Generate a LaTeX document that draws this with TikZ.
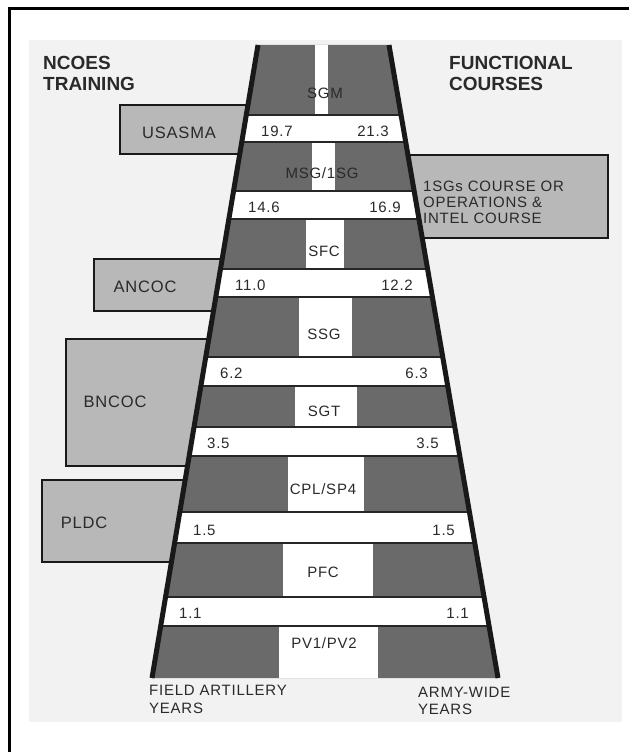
\documentclass[tikz,border=0pt]{standalone}
\usepackage{fontspec}
\setmainfont{Liberation Sans}
\newfontfamily\spacedfont[LetterSpace=5]{Liberation Sans}
\usetikzlibrary{calc}
\definecolor{scanbg}{HTML}{F2F2F2}
\definecolor{darkfill}{HTML}{6A6A6A}
\definecolor{boxfill}{HTML}{B8B8B8}
\definecolor{ink}{HTML}{2A2A2A}
\begin{document}
\begin{tikzpicture}[x=1pt,y=-1pt,
  lbl/.style={text=ink, inner sep=0pt, font=\spacedfont\fontsize{15}{15}\selectfont},
  clbl/.style={text=ink, inner sep=0pt, font=\spacedfont\fontsize{16.5}{16.5}\selectfont},
  head/.style={text=ink, inner sep=0pt, anchor=west, font=\bfseries\fontsize{19}{19}\selectfont},
  rank/.style={lbl},
  numl/.style={lbl, anchor=west},
  numr/.style={lbl, anchor=east},
  course/.style={draw=black!90, line width=2pt, fill=boxfill},
  bandline/.style={line width=2.5pt, draw=black!85},
  side/.style={line width=5pt, draw=black!90, line cap=butt}]
\useasboundingbox (0,0) rectangle (629,752);
\fill[white] (0,0) rectangle (629,752);
\draw[line width=3pt] (9,752) -- (9,9) -- (629,9);
\fill[scanbg] (29,40) rectangle (622,722);

% headings
\node[head] (h1a) at (43,63) {NCOES};
\node[head] (h1b) at (43,84) {TRAINING};
\node[head] (h2a) at (449,63) {FUNCTIONAL};
\node[head] (h2b) at (449,84) {COURSES};

% course boxes
\draw[course] (120,105) rectangle (252,154);
\draw[course] (94,259) rectangle (226,311);
\draw[course] (66,339) rectangle (213,466);
\draw[course] (42,480) rectangle (189,562);
\draw[course] (404,155) rectangle (608,238);
\node[clbl] (usasma) at (179,133) {USASMA};
\node[clbl] (ancoc) at (145,287) {ANCOC};
\node[clbl] (bncoc) at (115,402) {BNCOC};
\node[clbl] (pldc) at (84,523) {PLDC};
\node[lbl, anchor=west] (fc1) at (423,186) {1SGs COURSE OR};
\node[lbl, anchor=west] (fc2) at (423,202) {OPERATIONS \&};
\node[lbl, anchor=west] (fc3) at (423,218) {INTEL COURSE};

% ladder
\coordinate (TL) at (258,45);
\coordinate (TR) at (389,45);
\coordinate (BL) at (152,678);
\coordinate (BR) at (498,678);
\fill[darkfill] (TL) -- (TR) -- (BR) -- (BL) -- cycle;
\begin{scope}
\clip (TL) -- (TR) -- (BR) -- (BL) -- cycle;
% centre stripes
\fill[white] (315,40) rectangle (328,115);
\fill[white] (312,142) rectangle (335,191);
\fill[white] (306,219) rectangle (344,269);
\fill[white] (299,297) rectangle (352,357);
\fill[white] (295,386) rectangle (357,427);
\fill[white] (288,456) rectangle (364,512);
\fill[white] (283,543) rectangle (373,597);
\fill[white] (279,626) rectangle (378,680);
% white bands
\foreach \a/\b in {115/142,191/219,269/297,357/386,427/456,512/543,597/626}{
  \fill[white] (100,\a) rectangle (560,\b);
  \draw[bandline] (100,\a) -- (560,\a);
  \draw[bandline] (100,\b) -- (560,\b);
}
\end{scope}
\draw[side] (TL) -- (BL);
\draw[side] (TR) -- (BR);

% ranks
\node[rank] (sgm) at (325,93) {SGM};
\node[rank] (msg) at (322,173) {MSG/1SG};
\node[rank] (sfc) at (324,251) {SFC};
\node[rank] (ssg) at (324,334) {SSG};
\node[rank] (sgt) at (324,411) {SGT};
\node[rank] (cpl) at (323,489) {CPL/SP4};
\node[rank] (pfc) at (323,572) {PFC};
\node[rank] (pv) at (324,643) {PV1/PV2};

% years
\node[numl] (l1) at (261,131) {19.7};
\node[numr] (r1) at (389,131) {21.3};
\node[numl] (l2) at (248,207) {14.6};
\node[numr] (r2) at (401,207) {16.9};
\node[numl] (l3) at (235,285) {11.0};
\node[numr] (r3) at (413,285) {12.2};
\node[numl] (l4) at (220,373) {6.2};
\node[numr] (r4) at (428,373) {6.3};
\node[numl] (l5) at (207,443) {3.5};
\node[numr] (r5) at (439,443) {3.5};
\node[numl] (l6) at (193,530) {1.5};
\node[numr] (r6) at (455,530) {1.5};
\node[numl] (l7) at (179,613) {1.1};
\node[numr] (r7) at (469,613) {1.1};

% bottom captions
\node[lbl, anchor=west] (fa1) at (149,690) {FIELD ARTILLERY};
\node[lbl, anchor=west] (fa2) at (149,708) {YEARS};
\node[lbl, anchor=west] (aw1) at (418,692) {ARMY-WIDE};
\node[lbl, anchor=west] (aw2) at (418,709) {YEARS};
\end{tikzpicture}
\end{document}
